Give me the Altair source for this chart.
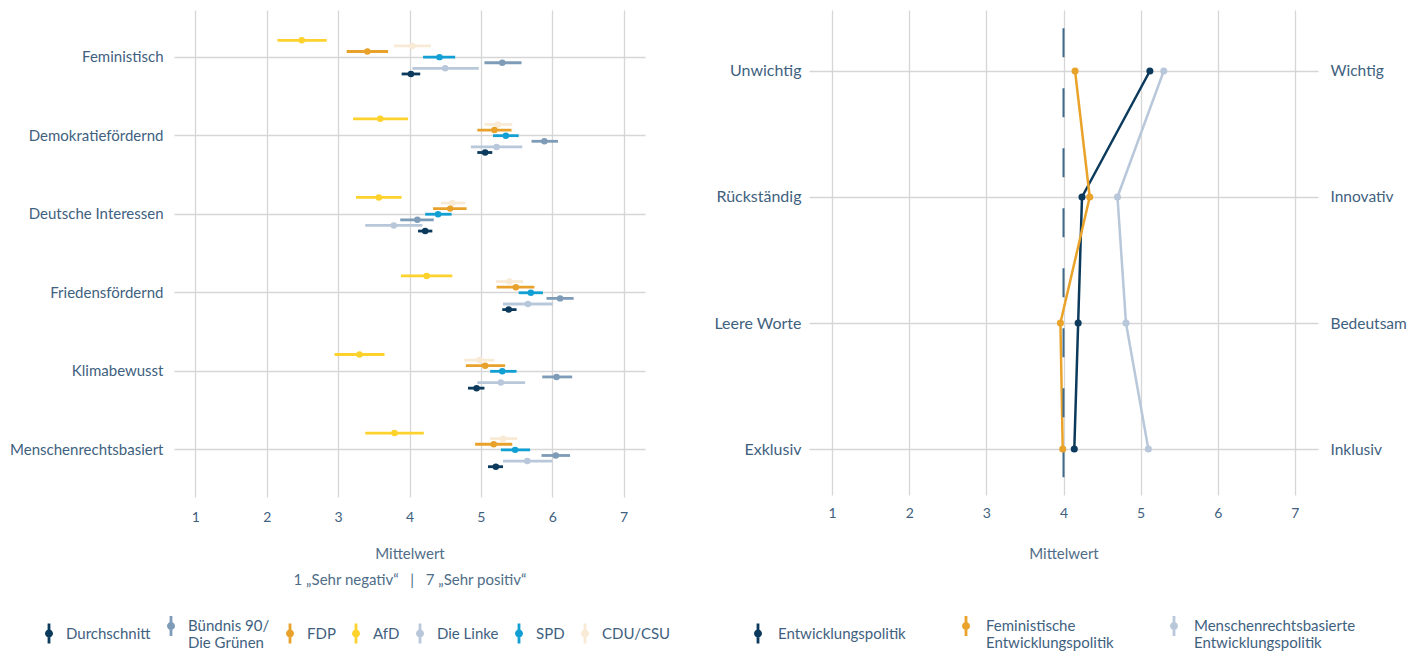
import altair as alt
import pandas as pd

# ---------------- left panel data ----------------
categories = ["Feministisch", "Demokratiefördernd", "Deutsche Interessen",
              "Friedensfördernd", "Klimabewusst", "Menschenrechtsbasiert"]
parties = ["Durchschnitt", "Bündnis 90/Die Grünen", "FDP", "AfD", "Die Linke", "SPD", "CDU/CSU"]
party_colors = ["#0b3a5c", "#7e9bb7", "#e8a22c", "#fdd22c", "#b8c7d9", "#129fd3", "#f8ead5"]
offset_order = ["AfD", "CDU/CSU", "FDP", "SPD", "Bündnis 90/Die Grünen", "Die Linke", "Durchschnitt"]

afd_mean = [2.49, 3.59, 3.57, 4.24, 3.30, 3.79]
afd_low = [2.15, 3.21, 3.25, 3.88, 2.95, 3.38]
afd_high = [2.84, 3.98, 3.89, 4.60, 3.65, 4.20]

cdu_mean = [4.04, 5.24, 4.60, 5.40, 4.98, 5.31]
cdu_low = [3.78, 5.05, 4.44, 5.21, 4.77, 5.13]
cdu_high = [4.30, 5.44, 4.78, 5.59, 5.19, 5.51]

fdp_mean = [3.41, 5.19, 4.57, 5.49, 5.06, 5.18]
fdp_low = [3.12, 4.95, 4.33, 5.22, 4.79, 4.92]
fdp_high = [3.70, 5.43, 4.80, 5.75, 5.34, 5.44]

spd_mean = [4.42, 5.35, 4.40, 5.70, 5.30, 5.48]
spd_low = [4.19, 5.17, 4.22, 5.53, 5.13, 5.28]
spd_high = [4.64, 5.53, 4.59, 5.87, 5.50, 5.69]

gruene_mean = [5.30, 5.89, 4.11, 6.11, 6.06, 6.05]
gruene_low = [5.05, 5.71, 3.87, 5.92, 5.86, 5.85]
gruene_high = [5.57, 6.08, 4.34, 6.30, 6.28, 6.25]

linke_mean = [4.50, 5.22, 3.78, 5.66, 5.28, 5.65]
linke_low = [4.04, 4.86, 3.38, 5.31, 4.95, 5.31]
linke_high = [4.97, 5.58, 4.18, 6.01, 5.62, 6.00]

avg_mean = [4.02, 5.06, 4.22, 5.39, 4.94, 5.21]
avg_low = [3.89, 4.95, 4.12, 5.30, 4.82, 5.10]
avg_high = [4.15, 5.16, 4.32, 5.50, 5.05, 5.31]

# ---------------- right panel data ----------------
dims_neg = ["Unwichtig", "Rückständig", "Leere Worte", "Exklusiv"]
dims_pos = ["Wichtig", "Innovativ", "Bedeutsam", "Inklusiv"]
series = ["Entwicklungspolitik", "Feministische Entwicklungspolitik",
          "Menschenrechtsbasierte Entwicklungspolitik"]
series_colors = ["#0b3a5c", "#eaa32a", "#b8c7d9"]
entw_vals = [5.12, 4.24, 4.19, 4.14]
fem_vals = [4.15, 4.34, 3.96, 3.99]
mr_vals = [5.30, 4.70, 4.81, 5.10]
neutral = 4
neutral_span = [0.66, 4.25]

ticks = [1, 2, 3, 4, 5, 6, 7]
x_domain = [0.7, 7.3]
y_domain_right = [0.516, 4.365]

# ---------------- build tables ----------------
party_sets = {
    "AfD": (afd_mean, afd_low, afd_high),
    "CDU/CSU": (cdu_mean, cdu_low, cdu_high),
    "FDP": (fdp_mean, fdp_low, fdp_high),
    "SPD": (spd_mean, spd_low, spd_high),
    "Bündnis 90/Die Grünen": (gruene_mean, gruene_low, gruene_high),
    "Die Linke": (linke_mean, linke_low, linke_high),
    "Durchschnitt": (avg_mean, avg_low, avg_high),
}
party_hex = dict(zip(parties, party_colors))
rows = []
for p in offset_order:
    m, lo, hi = party_sets[p]
    for i, c in enumerate(categories):
        rows.append({"category": c, "party": p, "mean": m[i], "low": lo[i], "high": hi[i],
                     "hex": party_hex[p]})
df_left = pd.DataFrame(rows)

series_hex = dict(zip(series, series_colors))
rrows = []
for s, vals in zip(series, [entw_vals, fem_vals, mr_vals]):
    for i, v in enumerate(vals):
        rrows.append({"series": s, "idx": i + 1, "value": v, "hex": series_hex[s]})
df_right = pd.DataFrame(rrows)

FONT = "Lato"
LABEL_COLOR = "#3f6180"
TITLE_COLOR = "#4f6d88"
GRID = "#d6d6d6"
NB = "\u00a0"

legend_shape = ("M-0.14,-1 L0.14,-1 L0.14,1 L-0.14,1 Z "
                "M0.4,0 A0.4,0.4 0 1,1 -0.4,0 A0.4,0.4 0 1,1 0.4,0 Z")

# ---------------- left chart ----------------
xscale_left = alt.Scale(domain=x_domain, nice=False, zero=False)
x_axis_left = alt.Axis(values=ticks,
                       title=["Mittelwert", f"1 „Sehr negativ“{NB}{NB}{NB}|{NB}{NB}{NB}7 „Sehr positiv“"],
                       titleFontSize=15, titleFontWeight="normal", titleColor=TITLE_COLOR,
                       titlePadding=22, titleLineHeight=26,
                       labelFontSize=14, labelPadding=13, grid=True, format="d")
y_left = alt.Y("category:N", sort=categories,
               scale=alt.Scale(paddingInner=0.5, paddingOuter=0.35),
               axis=alt.Axis(title=None, labelPadding=11, labelFontSize=15, grid=True))
yoff = alt.YOffset("party:N", sort=offset_order, scale=alt.Scale(domain=offset_order))

left_base = alt.Chart(df_left)
rules = left_base.mark_rule(strokeWidth=2.8).encode(
    x=alt.X("low:Q", scale=xscale_left, axis=x_axis_left),
    x2="high:Q",
    y=y_left, yOffset=yoff,
    stroke=alt.Stroke("hex:N", scale=None),
)
points = left_base.mark_point(filled=True, size=42, opacity=1).encode(
    x=alt.X("mean:Q", scale=xscale_left, axis=x_axis_left),
    y=y_left, yOffset=yoff,
    color=alt.Color("party:N", scale=alt.Scale(domain=parties, range=party_colors),
                    legend=alt.Legend(title=None, orient="none", direction="horizontal",
                                      legendX=-135, legendY=606,
                                      symbolType=legend_shape, symbolSize=400,
                                      symbolStrokeWidth=0, labelFontSize=15,
                                      labelOffset=7, columnPadding=10, labelLimit=300,
                                      labelExpr="datum.label == 'Bündnis 90/Die Grünen' ? ['Bündnis 90/', 'Die Grünen'] : datum.label")),
)
left = alt.layer(rules, points).properties(width=471, height=487)

# ---------------- right chart ----------------
xscale_right = alt.Scale(domain=x_domain, nice=False, zero=False)
x_axis_right = alt.Axis(values=ticks, title="Mittelwert", titleFontSize=15,
                        titleFontWeight="normal", titleColor=TITLE_COLOR, titlePadding=26,
                        labelFontSize=14, labelPadding=11, grid=True, format="d")
yscale_r = alt.Scale(domain=y_domain_right, reverse=True, nice=False, zero=False)
neg_expr = "['', " + ", ".join(f"'{d}'" for d in dims_neg) + "][datum.value]"
pos_expr = "['', " + ", ".join(f"'{d}'" for d in dims_pos) + "][datum.value]"

y_right_main = alt.Y("idx:Q", scale=yscale_r,
                     axis=alt.Axis(values=[1, 2, 3, 4], labelExpr=neg_expr, title=None,
                                   labelPadding=8, labelFontSize=16, grid=True))
right_base = alt.Chart(df_right)
lines = right_base.mark_line(strokeWidth=2.5).encode(
    x=alt.X("value:Q", scale=xscale_right, axis=x_axis_right),
    y=y_right_main,
    detail="series:N",
    stroke=alt.Stroke("hex:N", scale=None),
    order="idx:Q",
)
rpoints = right_base.mark_point(filled=True, size=50, opacity=1).encode(
    x=alt.X("value:Q", scale=xscale_right, axis=x_axis_right),
    y=y_right_main,
    color=alt.Color("series:N", scale=alt.Scale(domain=series, range=series_colors),
                    legend=alt.Legend(title=None, orient="none", direction="horizontal",
                                      legendX=-61, legendY=606,
                                      symbolType=legend_shape, symbolSize=400,
                                      symbolStrokeWidth=0, labelFontSize=15,
                                      labelOffset=10, columnPadding=50, labelLimit=300,
                                      labelExpr="indexof(datum.label, ' ') > 0 ? split(datum.label, ' ') : datum.label")),
)
dash = alt.Chart(pd.DataFrame({"x": [neutral], "y": [neutral_span[0]], "y2": [neutral_span[1]]})).mark_rule(
    color="#3f6a8b", strokeWidth=2, strokeDash=[29, 31]
).encode(
    x=alt.X("x:Q", scale=xscale_right, axis=x_axis_right),
    y=alt.Y("y:Q", scale=yscale_r),
    y2="y2:Q",
)
inner = alt.layer(lines, dash, rpoints)
right_axis = right_base.mark_point(opacity=0).encode(
    x=alt.X("value:Q", scale=xscale_right, axis=x_axis_right),
    y=alt.Y("idx:Q", scale=alt.Scale(domain=y_domain_right, reverse=True, nice=False, zero=False),
            axis=alt.Axis(orient="right", values=[1, 2, 3, 4], labelExpr=pos_expr, title=None,
                          labelPadding=12, labelFontSize=15.5, grid=False)),
)
right = alt.layer(inner, right_axis).resolve_scale(y="independent").properties(
    width=509, height=485
)

chart = alt.hconcat(left, right, spacing=42).resolve_scale(
    color="independent"
).resolve_legend(color="independent").properties(
    padding={"left": 1, "top": 2, "right": 0, "bottom": 0}
).configure(font=FONT).configure_view(stroke=None).configure_axis(
    labelFont=FONT, titleFont=FONT, labelColor=LABEL_COLOR, domain=False, ticks=False,
    gridColor=GRID, gridWidth=1.3,
).configure_legend(labelFont=FONT, labelColor=LABEL_COLOR, padding=0)

chart.save("out.html", embed_options={"renderer": "svg", "actions": False})
